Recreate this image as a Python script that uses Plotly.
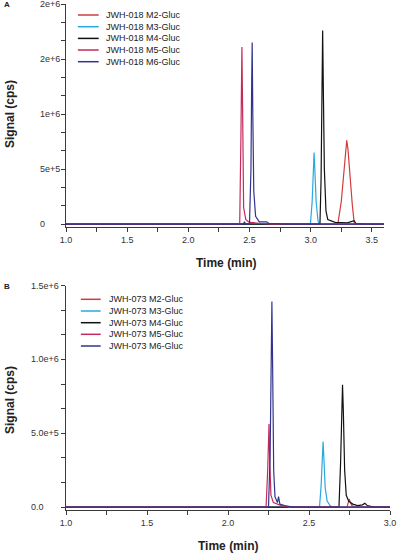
import plotly.graph_objects as go

# ---------------- data ----------------
names_A = ["JWH-018 M2-Gluc", "JWH-018 M3-Gluc", "JWH-018 M4-Gluc", "JWH-018 M5-Gluc", "JWH-018 M6-Gluc"]
names_B = ["JWH-073 M2-Gluc", "JWH-073 M3-Gluc", "JWH-073 M4-Gluc", "JWH-073 M5-Gluc", "JWH-073 M6-Gluc"]
colors = ["#D23B3B", "#2AA8E0", "#111111", "#C42A5C", "#33338F"]

# Panel A (JWH-018), time in min, signal in cps
A_M2_t = [1.0, 3.222, 3.25, 3.27, 3.285, 3.295, 3.305, 3.32, 3.34, 3.357, 3.6]
A_M2_y = [0, 0, 2.0e5, 4.5e5, 6.8e5, 7.6e5, 6.8e5, 4.5e5, 1.8e5, 0, 0]
A_M3_t = [1.0, 2.998, 3.012, 3.022, 3.028, 3.034, 3.045, 3.06, 3.07, 3.6]
A_M3_y = [0, 0, 2.0e5, 5.0e5, 6.5e5, 5.0e5, 2.0e5, 3.0e4, 0, 0]
A_M4_t = [1.0, 3.076, 3.085, 3.093, 3.098, 3.104, 3.112, 3.125, 3.14, 3.2, 3.3, 3.355, 3.37, 3.45, 3.6]
A_M4_y = [0, 0, 4.0e5, 1.3e6, 1.76e6, 1.2e6, 5.0e5, 1.2e5, 4.0e4, 1.5e4, 1.0e4, 3.0e4, 5.0e3, 0, 0]
A_M5_t = [1.0, 2.42, 2.43, 2.438, 2.445, 2.452, 2.47, 2.5, 2.6, 2.7, 3.6]
A_M5_y = [0, 0, 8.0e5, 1.61e6, 9.0e5, 1.5e5, 4.0e4, 1.5e4, 5.0e3, 0, 0]
A_M6_t = [1.0, 2.45, 2.459, 2.468, 2.50, 2.512, 2.518, 2.522, 2.527, 2.535, 2.55, 2.58, 2.64, 2.66, 2.8, 3.6]
A_M6_y = [0, 0, 2.0e4, 0, 0, 5.0e5, 1.3e6, 1.65e6, 1.0e6, 3.0e5, 7.0e4, 2.0e4, 2.0e4, 5.0e3, 0, 0]

# Panel B (JWH-073)
B_M2_t = [1.0, 2.735, 2.742, 2.748, 2.755, 2.765, 2.78, 3.0]
B_M2_y = [0, 0, 3.0e4, 5.5e4, 3.0e4, 1.0e4, 0, 0]
B_M3_t = [1.0, 2.565, 2.575, 2.582, 2.587, 2.592, 2.60, 2.612, 2.63, 2.645, 3.0]
B_M3_y = [0, 0, 1.5e5, 3.5e5, 4.44e5, 3.3e5, 1.3e5, 4.0e4, 1.0e4, 0, 0]
B_M4_t = [1.0, 2.685, 2.695, 2.702, 2.707, 2.712, 2.72, 2.73, 2.745, 2.77, 2.80, 2.83, 2.845, 2.86, 2.90, 3.0]
B_M4_y = [0, 0, 3.0e5, 7.0e5, 8.28e5, 6.5e5, 2.5e5, 8.0e4, 4.0e4, 2.0e4, 1.0e4, 1.5e4, 2.5e4, 1.0e4, 0, 0]
B_M5_t = [1.0, 2.235, 2.245, 2.25, 2.253, 2.258, 2.265, 2.28, 2.30, 2.33, 2.38, 3.0]
B_M5_y = [0, 0, 2.5e5, 5.0e5, 5.63e5, 3.0e5, 8.0e4, 3.0e4, 2.0e4, 1.0e4, 0, 0]
B_M6_t = [1.0, 2.25, 2.26, 2.266, 2.271, 2.276, 2.282, 2.29, 2.298, 2.305, 2.312, 2.32, 2.35, 2.40, 3.0]
B_M6_y = [0, 0, 3.5e5, 1.0e6, 1.393e6, 9.0e5, 2.5e5, 7.0e4, 4.0e4, 3.0e4, 7.0e4, 2.0e4, 1.0e4, 0, 0]

A_series = [(A_M2_t, A_M2_y), (A_M3_t, A_M3_y), (A_M4_t, A_M4_y), (A_M5_t, A_M5_y), (A_M6_t, A_M6_y)]
B_series = [(B_M2_t, B_M2_y), (B_M3_t, B_M3_y), (B_M4_t, B_M4_y), (B_M5_t, B_M5_y), (B_M6_t, B_M6_y)]

A_ytick_vals = [0, 5e5, 1e6, 1.5e6, 2e6]
A_ytick_text = ["0", "5e+5", "1e+6", "2e+6", "2e+6"]
B_ytick_vals = [0, 5e5, 1e6, 1.5e6]
B_ytick_text = ["0.0", "5.0e+5", "1.0e+6", "1.5e+6"]

# ---------------- layout geometry ----------------
W, H = 400, 553
ML, MR, MT, MB = 66, 7, 4, 43
PW, PH = W - ML - MR, H - MT - MB
FONT = "Liberation Sans, Arial, sans-serif"
AXC = "#3a3a3a"


def px(xp):
    return (xp - ML) / PW


def py(yp):
    return (H - MB - yp) / PH


fig = go.Figure()
for (t, y), c, n in zip(A_series, colors, names_A):
    fig.add_trace(go.Scatter(x=t, y=y, mode="lines", name=n, line=dict(color=c, width=1.2),
                             xaxis="x", yaxis="y", showlegend=False))
for (t, y), c, n in zip(B_series, colors, names_B):
    fig.add_trace(go.Scatter(x=t, y=y, mode="lines", name=n, line=dict(color=c, width=1.2),
                             xaxis="x2", yaxis="y2", showlegend=False))

common_x = dict(showline=True, linecolor=AXC, linewidth=1.2, ticks="outside", ticklen=4,
                tickwidth=1.2, tickcolor=AXC, showgrid=False, zeroline=False,
                tick0=1.0, dtick=0.5, tickformat=".1f",
                tickfont=dict(family=FONT, size=9, color="#333"),
                minor=dict(dtick=0.25, tick0=1.0, ticks="outside", ticklen=4, tickcolor=AXC, tickwidth=1.2))
common_y = dict(showline=True, linecolor=AXC, linewidth=1.2, ticks="outside", ticklen=4,
                tickwidth=1.2, tickcolor=AXC, showgrid=False, zeroline=False,
                tick0=0, dtick=5e5, showticklabels=False,
                minor=dict(dtick=5e5 / 3, tick0=0, ticks="outside", ticklen=4, tickcolor=AXC, tickwidth=1.2))

fig.update_layout(
    width=W, height=H, autosize=False,
    margin=dict(l=ML, r=MR, t=MT, b=MB),
    paper_bgcolor="white", plot_bgcolor="white",
    showlegend=False,
    font=dict(family=FONT, color="#222"),
    xaxis=dict(domain=[0, px(387)], anchor="y", range=[1.0, 3.6], **common_x),
    yaxis=dict(domain=[py(227), py(4)], anchor="x", range=[-2.7e4, 2.0e6], **common_y),
    xaxis2=dict(domain=[0, 1], anchor="y2", range=[1.0, 3.0], **common_x),
    yaxis2=dict(domain=[0, py(285.7)], anchor="x2", range=[-2.0e4, 1.5e6], **common_y),
)

ann = []
# y tick labels (left aligned, as in the original)
for v, s in zip(A_ytick_vals, A_ytick_text):
    ann.append(dict(x=px(38), y=v, xref="paper", yref="y", text=s, showarrow=False, xanchor="left",
                    yanchor="middle", font=dict(family=FONT, size=9, color="#333")))
for v, s in zip(B_ytick_vals, B_ytick_text):
    ann.append(dict(x=px(29), y=v, xref="paper", yref="y2", text=s, showarrow=False, xanchor="left",
                    yanchor="middle", font=dict(family=FONT, size=9, color="#333")))

# axis titles
title_font = dict(family=FONT, size=12, color="#222")
ann.append(dict(x=px(227.5), y=py(263), xref="paper", yref="paper", text="<b>Time (min)</b>",
                showarrow=False, xanchor="center", yanchor="middle", font=title_font))
ann.append(dict(x=px(230), y=py(546), xref="paper", yref="paper", text="<b>Time (min)</b>",
                showarrow=False, xanchor="center", yanchor="middle", font=title_font))
ann.append(dict(x=px(9.5), y=py(114), xref="paper", yref="paper", text="<b>Signal (cps)</b>",
                textangle=-90, showarrow=False, xanchor="center", yanchor="middle", font=title_font))
ann.append(dict(x=px(9.5), y=py(400), xref="paper", yref="paper", text="<b>Signal (cps)</b>",
                textangle=-90, showarrow=False, xanchor="center", yanchor="middle", font=title_font))
# panel letters
ann.append(dict(x=px(1), y=py(5), xref="paper", yref="paper", text="<b>A</b>", xanchor="left",
                yanchor="middle", showarrow=False, font=dict(family=FONT, size=8, color="#222")))
ann.append(dict(x=px(1), y=py(286), xref="paper", yref="paper", text="<b>B</b>", xanchor="left",
                yanchor="middle", showarrow=False, font=dict(family=FONT, size=8, color="#222")))

# legends (hand-built for the tight row spacing of the original)
shapes = []
legA_rows = [15, 26.7, 38.4, 50, 61.7]
legB_rows = [299.3, 311, 322.7, 334.3, 346]
for rows, names, x0, x1, xt in [(legA_rows, names_A, 78, 99, 104), (legB_rows, names_B, 81, 101, 107)]:
    for r, n, c in zip(rows, names, colors):
        shapes.append(dict(type="line", xref="paper", yref="paper", x0=px(x0), x1=px(x1),
                           y0=py(r), y1=py(r), line=dict(color=c, width=1.5)))
        ann.append(dict(x=px(xt), y=py(r), xref="paper", yref="paper", text=n, showarrow=False,
                        xanchor="left", yanchor="middle", font=dict(family=FONT, size=9, color="#222")))

fig.update_layout(annotations=ann, shapes=shapes)
fig.write_html("out.html", config={"displayModeBar": False},
               post_script="document.body.style.margin='0px';")
